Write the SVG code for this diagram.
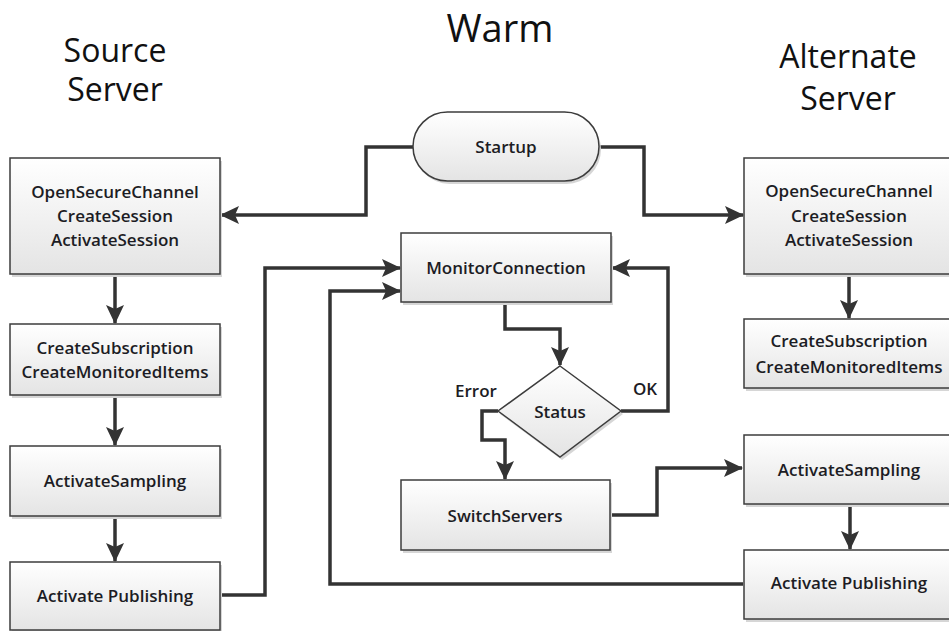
<svg xmlns="http://www.w3.org/2000/svg" width="949" height="631" viewBox="0 0 949 631">
<defs>
<linearGradient id="g" x1="0" y1="0" x2="0" y2="1">
<stop offset="0" stop-color="#ffffff"/>
<stop offset="1" stop-color="#e4e4e4"/>
</linearGradient>
<marker id="ah" markerUnits="userSpaceOnUse" markerWidth="19" markerHeight="19" viewBox="0 0 19 19" refX="18" refY="9.5" orient="auto">
<path d="M0,0.5 L19,9.5 L0,18.5 L4,9.5 Z" fill="#333333"/>
</marker>
<style>
.box{fill:url(#g);stroke:#3c3c3c;stroke-width:1.5}
.sh{fill:#d6d6d6}
.t{font-family:"Open Sans","Liberation Sans",sans-serif;font-size:17px;font-weight:600;fill:#1c1c24;text-anchor:middle}
.title{font-family:"Open Sans","Liberation Sans",sans-serif;font-size:32px;font-weight:500;fill:#111;text-anchor:middle}
.c{fill:none;stroke:#333333;stroke-width:3.5;stroke-linejoin:miter}
.a{marker-end:url(#ah)}
</style>
</defs>
<rect width="949" height="631" fill="#ffffff"/>

<g id="titles">
<text class="title" x="500" y="41.5" style="font-size:38px">Warm</text>
<text class="title" x="115" y="62">Source</text>
<text class="title" x="115" y="101">Server</text>
<text class="title" x="848" y="68">Alternate</text>
<text class="title" x="848" y="110">Server</text>
</g>

<g id="connectors">
<path class="c a" d="M413,147 H366 V215 H221"/>
<path class="c a" d="M599,147 H644 V215 H743"/>
<path class="c a" d="M115,274 V323"/>
<path class="c a" d="M115,395 V445"/>
<path class="c a" d="M115,516 V561"/>
<path class="c a" d="M220,595 H265 V268 H400"/>
<path class="c a" d="M743,584 H330 V291 H400"/>
<path class="c a" d="M505,302 V329 H560 V365"/>
<path class="c a" d="M621,411 H668 V268 H612"/>
<path class="c a" d="M498,411 H482 V440 H505 V479"/>
<path class="c a" d="M610,515 H657 V468 H742"/>
<path class="c a" d="M849,274 V318"/>
<path class="c a" d="M850,504 V549"/>
</g>

<g id="src-session">
<rect class="sh" x="12" y="161" width="210" height="116"/>
<rect class="box" x="10" y="158" width="210" height="116"/>
<text class="t" x="115" y="198">OpenSecureChannel</text>
<text class="t" x="115" y="222">CreateSession</text>
<text class="t" x="115" y="246">ActivateSession</text>
</g>
<g id="src-subscription">
<rect class="sh" x="12" y="327" width="210" height="71"/>
<rect class="box" x="10" y="324" width="210" height="71"/>
<text class="t" x="115" y="354">CreateSubscription</text>
<text class="t" x="115" y="378">CreateMonitoredItems</text>
</g>
<g id="src-sampling">
<rect class="sh" x="12" y="449" width="210" height="70"/>
<rect class="box" x="10" y="446" width="210" height="70"/>
<text class="t" x="115" y="487">ActivateSampling</text>
</g>
<g id="src-publishing">
<rect class="sh" x="12" y="565" width="210" height="68"/>
<rect class="box" x="10" y="562" width="210" height="68"/>
<text class="t" x="115" y="602">Activate Publishing</text>
</g>

<g id="startup">
<rect class="sh" x="415" y="115" width="186" height="69" rx="34.5"/>
<rect class="box" x="413" y="112" width="186" height="69" rx="34.5"/>
<text class="t" x="506" y="153">Startup</text>
</g>
<g id="monitor">
<rect class="sh" x="403" y="236" width="210" height="69"/>
<rect class="box" x="401" y="233" width="210" height="69"/>
<text class="t" x="506" y="274">MonitorConnection</text>
</g>
<g id="status">
<path class="sh" d="M562,369 L623,414 L562,460 L500,414 Z"/>
<path class="box" d="M560,366 L621,411 L560,457 L498,411 Z"/>
<text class="t" x="560" y="418">Status</text>
</g>
<g id="labels">
<text class="t" x="476" y="397">Error</text>
<text class="t" x="645" y="395">OK</text>
</g>
<g id="switch">
<rect class="sh" x="403" y="483" width="209" height="70"/>
<rect class="box" x="401" y="480" width="209" height="70"/>
<text class="t" x="505" y="522">SwitchServers</text>
</g>

<g id="alt-session">
<rect class="sh" x="746" y="161" width="210" height="116"/>
<rect class="box" x="744" y="158" width="210" height="116"/>
<text class="t" x="849" y="197">OpenSecureChannel</text>
<text class="t" x="849" y="222">CreateSession</text>
<text class="t" x="849" y="246">ActivateSession</text>
</g>
<g id="alt-subscription">
<rect class="sh" x="746" y="322" width="210" height="69"/>
<rect class="box" x="744" y="319" width="210" height="69"/>
<text class="t" x="849" y="347">CreateSubscription</text>
<text class="t" x="849" y="373">CreateMonitoredItems</text>
</g>
<g id="alt-sampling">
<rect class="sh" x="746" y="438" width="210" height="69"/>
<rect class="box" x="744" y="435" width="210" height="69"/>
<text class="t" x="849" y="476">ActivateSampling</text>
</g>
<g id="alt-publishing">
<rect class="sh" x="746" y="553" width="210" height="69"/>
<rect class="box" x="744" y="550" width="210" height="69"/>
<text class="t" x="849" y="589">Activate Publishing</text>
</g>
</svg>
